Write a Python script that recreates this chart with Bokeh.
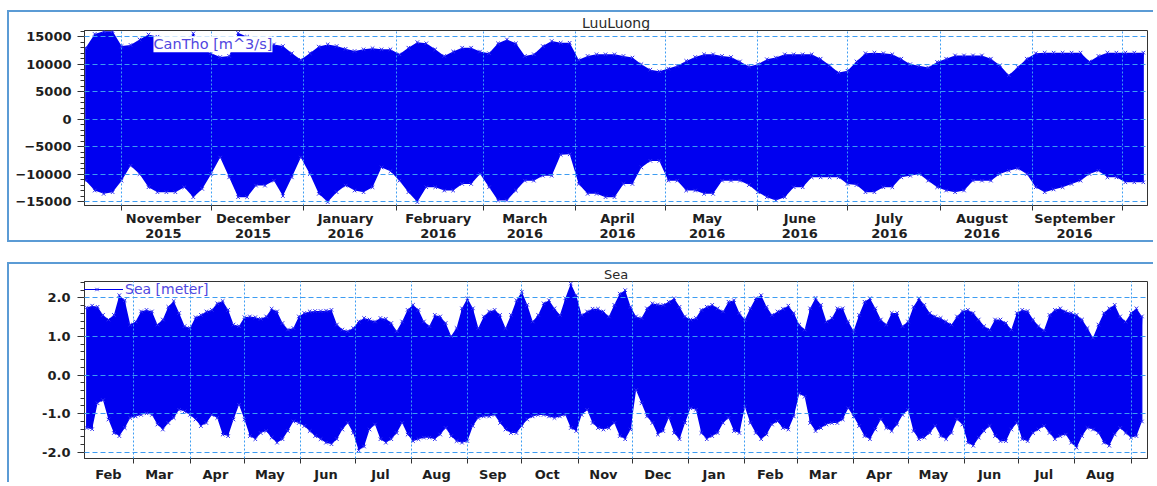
import numpy as np
import pandas as pd
from bokeh.plotting import figure
from bokeh.layouts import column
from bokeh.models import (ColumnDataSource, Range1d, FixedTicker, SingleIntervalTicker,
                          PrintfTickFormatter, Label, Legend, LegendItem)
from bokeh.embed import file_html
from bokeh.resources import INLINE

BASE = pd.Timestamp("2015-01-01")


def day(ts):
    return (pd.Timestamp(ts) - BASE) / pd.Timedelta(days=1)


# ---------------- LuuLuong : CanTho discharge [m^3/s] (envelope read every 3 days) -------------
flow_start = "2015-10-20"
flow_step_days = 3
flow_high = [13000, 15500, 16000, 16000, 13300, 13500, 14500, 15400, 15000, 13500,
             13000, 13000, 15600, 12700, 12000, 11300, 11500, 15700, 15000, 13600,
             13600, 13600, 13300, 12000, 10800, 12000, 13200, 13600, 13300, 12800,
             12400, 12700, 12900, 12700, 12700, 11800, 13000, 14000, 13800, 12700,
             11500, 12300, 13000, 13000, 12300, 12000, 13800, 14500, 13800, 11500,
             11800, 13300, 14200, 13900, 13900, 10800, 11500, 11800, 11800, 11800,
             11500, 11200, 10000, 9000, 8700, 9200, 9700, 10600, 11300, 11800,
             11800, 11500, 11300, 10500, 9600, 10000, 10900, 11200, 11800, 11800,
             11800, 11800, 11000, 9800, 8500, 8800, 10500, 12000, 12100, 12000,
             11800, 11000, 10000, 9700, 9400, 10400, 11000, 11600, 11600, 11600,
             11600, 11000, 9800, 8000, 9500, 11000, 12000, 12100, 12100, 12100,
             12100, 12100, 10500, 11500, 12100, 12100, 12100, 12100, 12100]
flow_low = [-11200, -13000, -13600, -13300, -11200, -8500, -10000, -12400, -13300, -13300,
            -13300, -12400, -14200, -12700, -10000, -7000, -10600, -14200, -14200, -12100,
            -12100, -11200, -14000, -10600, -7000, -10000, -13600, -15100, -13300, -12100,
            -13000, -13300, -12400, -8800, -9500, -11200, -13300, -15100, -12400, -12400,
            -13000, -13000, -11800, -11800, -10000, -12400, -14800, -14800, -13000, -11200,
            -11200, -10300, -10300, -6500, -6400, -11800, -13600, -13600, -14200, -14200,
            -11800, -11800, -8800, -7600, -7600, -11200, -11200, -13000, -13000, -13600,
            -13600, -11200, -11200, -11200, -12000, -13300, -14200, -14800, -14200, -12400,
            -12400, -10600, -10600, -10600, -10600, -11800, -12000, -13300, -13300, -12400,
            -12400, -10600, -10300, -10000, -11200, -12400, -13000, -13300, -13000, -11200,
            -11200, -11200, -10000, -9400, -9000, -10000, -12400, -13300, -12800, -12400,
            -11800, -11200, -10000, -9400, -10600, -10600, -11500, -11500, -11500]
flow_month_starts = pd.date_range("2015-11-01", "2016-10-01", freq="MS")
flow_month_labels = ["November\n2015", "December\n2015", "January\n2016", "February\n2016",
                     "March\n2016", "April\n2016", "May\n2016", "June\n2016", "July\n2016",
                     "August\n2016", "September\n2016"]

# ---------------- Sea : water level [meter] (envelope read every 3 days) -------------
sea_start = "2015-02-03"
sea_step_days = 3
sea_high = [1.75, 1.80, 1.77, 1.56, 1.44, 1.56, 2.07, 1.94, 1.31, 1.39,
            1.65, 1.69, 1.65, 1.31, 1.44, 1.77, 1.92, 1.61, 1.27, 1.22,
            1.50, 1.56, 1.65, 1.69, 1.86, 1.92, 1.69, 1.31, 1.27, 1.50,
            1.52, 1.50, 1.46, 1.52, 1.72, 1.65, 1.35, 1.18, 1.22, 1.52,
            1.61, 1.65, 1.66, 1.66, 1.67, 1.69, 1.31, 1.18, 1.14, 1.22,
            1.39, 1.48, 1.44, 1.39, 1.48, 1.46, 1.35, 1.14, 1.39, 1.69,
            1.82, 1.69, 1.39, 1.27, 1.56, 1.52, 1.35, 1.01, 1.22, 1.73,
            1.99, 1.73, 1.22, 1.52, 1.65, 1.69, 1.56, 1.22, 1.56, 1.94,
            2.16, 1.82, 1.39, 1.56, 1.86, 1.94, 1.73, 1.56, 1.99, 2.37,
            2.07, 1.56, 1.65, 1.72, 1.72, 1.65, 1.52, 1.82, 2.11, 2.20,
            1.77, 1.52, 1.48, 1.73, 1.86, 1.83, 1.82, 1.90, 1.99, 1.77,
            1.52, 1.44, 1.48, 1.69, 1.77, 1.82, 1.73, 1.65, 1.90, 1.94,
            1.61, 1.44, 1.73, 1.99, 2.07, 1.77, 1.56, 1.65, 1.72, 1.80,
            1.61, 1.31, 1.18, 1.73, 2.00, 1.82, 1.39, 1.48, 1.73, 1.73,
            1.39, 1.14, 1.56, 1.90, 1.99, 1.73, 1.44, 1.31, 1.61, 1.61,
            1.27, 1.39, 1.77, 1.99, 1.82, 1.61, 1.52, 1.48, 1.39, 1.31,
            1.52, 1.66, 1.69, 1.61, 1.44, 1.27, 1.18, 1.44, 1.44, 1.35,
            1.18, 1.61, 1.69, 1.66, 1.44, 1.27, 1.16, 1.56, 1.69, 1.73,
            1.65, 1.61, 1.56, 1.44, 1.22, 0.97, 1.31, 1.61, 1.73, 1.82,
            1.52, 1.39, 1.61, 1.73, 1.52]
sea_low = [-1.37, -1.40, -0.73, -0.65, -1.15, -1.50, -1.58, -1.37, -1.11, -1.07,
           -1.03, -0.99, -1.03, -1.28, -1.41, -1.24, -1.11, -0.90, -0.94, -1.03,
           -1.15, -1.32, -1.24, -1.03, -1.11, -1.54, -1.58, -1.15, -0.77, -1.15,
           -1.58, -1.66, -1.50, -1.45, -1.62, -1.75, -1.66, -1.45, -1.20, -1.24,
           -1.32, -1.45, -1.58, -1.66, -1.75, -1.79, -1.66, -1.41, -1.24, -1.50,
           -1.95, -1.85, -1.41, -1.28, -1.66, -1.75, -1.66, -1.50, -1.24, -1.54,
           -1.71, -1.66, -1.62, -1.62, -1.66, -1.54, -1.37, -1.58, -1.71, -1.75,
           -1.71, -1.32, -1.11, -1.07, -1.07, -1.03, -1.24, -1.41, -1.50, -1.50,
           -1.32, -1.15, -1.07, -1.03, -1.03, -1.07, -1.11, -1.07, -1.03, -1.37,
           -1.45, -1.03, -0.90, -1.24, -1.37, -1.41, -1.37, -1.24, -1.58, -1.66,
           -1.41, -0.39, -0.73, -1.07, -1.24, -1.54, -1.45, -1.11, -1.50, -1.66,
           -1.24, -0.86, -0.90, -1.50, -1.66, -1.58, -1.50, -1.24, -1.11, -1.45,
           -1.50, -0.82, -1.24, -1.50, -1.66, -1.54, -1.28, -1.20, -1.37, -1.41,
           -1.07, -0.48, -0.56, -1.24, -1.45, -1.37, -1.28, -1.24, -1.24, -1.15,
           -0.86, -1.07, -1.32, -1.58, -1.66, -1.41, -1.15, -1.37, -1.45, -1.28,
           -1.03, -0.90, -1.45, -1.66, -1.62, -1.50, -1.32, -1.58, -1.66, -1.50,
           -1.15, -1.28, -1.75, -1.83, -1.62, -1.45, -1.32, -1.58, -1.71, -1.71,
           -1.41, -1.24, -1.66, -1.71, -1.50, -1.41, -1.32, -1.50, -1.66, -1.58,
           -1.54, -1.75, -1.88, -1.58, -1.37, -1.41, -1.50, -1.75, -1.83, -1.54,
           -1.37, -1.50, -1.62, -1.58, -1.20]
sea_month_starts = pd.date_range("2015-03-01", "2016-09-01", freq="MS")
sea_month_labels = ["Feb", "Mar", "Apr", "May", "Jun", "Jul", "Aug", "Sep", "Oct", "Nov",
                    "Dec", "Jan", "Feb", "Mar", "Apr", "May", "Jun", "Jul", "Aug"]

# ---------------- styling ----------------
BLUE = "#0000f0"
EDGE = "#3030f5"
GRID = "#3d9cf2"
FRAME_BLUE = "#5b9bd5"
LEG = "#5046e0"
AXC = "#333333"
TXT = "#1e1e1e"
FONT = "DejaVu Sans"


def draw_series(p, start, step, hi, lo):
    xs = day(start) + step * np.arange(len(hi))
    src = ColumnDataSource(dict(x=xs, hi=hi, lo=lo))
    p.varea(x="x", y1="lo", y2="hi", source=src, fill_color=BLUE)
    xz = np.repeat(xs, 2)
    yz = np.column_stack([hi, lo]).ravel()
    line = p.line(xz, yz, line_color=BLUE, line_width=1)
    pts = p.scatter(xz, yz, marker="x", size=5, line_color=EDGE, line_width=1)
    return line, pts


def setup_axes(p, mids, starts, labels, line_height, xstandoff, yticker, yfmt, ystandoff):
    xa = p.xaxis[0]
    xa.ticker = FixedTicker(ticks=mids, minor_ticks=starts)
    xa.major_label_overrides = {m: l for m, l in zip(mids, labels)}
    xa.major_tick_line_color = None
    xa.major_tick_out = 0
    xa.major_tick_in = 0
    xa.minor_tick_out = 5
    xa.minor_tick_in = 0
    xa.minor_tick_line_color = AXC
    xa.axis_line_color = AXC
    xa.major_label_standoff = xstandoff
    xa.major_label_text_font = FONT
    xa.major_label_text_font_size = "13px"
    xa.major_label_text_font_style = "bold"
    xa.major_label_text_color = TXT
    xa.major_label_text_line_height = line_height

    ya = p.yaxis[0]
    ya.ticker = yticker
    if yfmt is not None:
        ya.formatter = yfmt
    ya.major_tick_out = 7
    ya.major_tick_in = 0
    ya.minor_tick_out = 4
    ya.minor_tick_in = 0
    ya.major_tick_line_color = AXC
    ya.minor_tick_line_color = AXC
    ya.axis_line_color = AXC
    ya.major_label_standoff = ystandoff
    ya.major_label_text_font = FONT
    ya.major_label_text_font_size = "13px"
    ya.major_label_text_font_style = "bold"
    ya.major_label_text_color = TXT

    p.xgrid.ticker = FixedTicker(ticks=starts)
    p.xgrid.grid_line_color = GRID
    p.xgrid.grid_line_dash = "2 2"
    p.xgrid.level = "guide"
    p.ygrid.grid_line_color = GRID
    p.ygrid.grid_line_dash = "5 3"
    p.ygrid.level = "guide"


def set_title(p, text, size):
    p.title.text = text
    p.title.align = "center"
    p.title.text_font = FONT
    p.title.text_font_size = size
    p.title.text_font_style = "normal"
    p.title.text_color = "#2a2a2a"
    p.title.standoff = 0
    p.title.offset = 0


# ---------------- top panel ----------------
fx0, fx1 = day("2015-10-19 14:00"), day("2016-10-09 10:00")
fy0, fy1 = -15720, 16130
p1 = figure(width=1146, height=232, output_backend="svg", toolbar_location=None,
            x_range=Range1d(fx0, fx1), y_range=Range1d(fy0, fy1),
            min_border_left=75, min_border_right=8, min_border_top=16, min_border_bottom=39,
            outline_line_color=AXC, background_fill_color="white", border_fill_color="white")
p1.styles = {"border-left": f"2px solid {FRAME_BLUE}", "border-top": f"2px solid {FRAME_BLUE}",
             "border-bottom": f"2px solid {FRAME_BLUE}"}
draw_series(p1, flow_start, flow_step_days, flow_high, flow_low)
f_starts = [int(day(d)) for d in flow_month_starts]
f_mids = [s + 14 for s in f_starts[:-1]]
setup_axes(p1, f_mids, f_starts, flow_month_labels, 1.0, 0,
           SingleIntervalTicker(interval=5000, num_minor_ticks=5), None, 6)
set_title(p1, "LuuLuong", "14px")
p1.add_layout(Label(x=day("2015-11-11 16:00"), y=13650, text="CanTho [m^3/s]",
                    text_align="left", text_baseline="middle", text_font=FONT,
                    text_font_size="14.5px", text_color=LEG, background_fill_color="white"))

# ---------------- bottom panel ----------------
sx0, sx1 = day("2015-02-01 19:00"), day("2016-09-10 02:00")
sy0, sy1 = -2.16, 2.425
p2 = figure(width=1146, height=220, output_backend="svg", toolbar_location=None,
            x_range=Range1d(sx0, sx1), y_range=Range1d(sy0, sy1),
            min_border_left=44, min_border_right=4, min_border_top=15, min_border_bottom=25,
            outline_line_color=AXC, background_fill_color="white", border_fill_color="white")
p2.styles = {"border-left": f"2px solid {FRAME_BLUE}", "border-top": f"2px solid {FRAME_BLUE}"}
sea_line, sea_pts = draw_series(p2, sea_start, sea_step_days, sea_high, sea_low)
s_starts = [int(day(d)) for d in sea_month_starts]
s_mids = [int(day("2015-02-15"))] + [s + 14 for s in s_starts[:-1]]
setup_axes(p2, s_mids, s_starts, sea_month_labels, 1.2, 3,
           SingleIntervalTicker(interval=1.0, num_minor_ticks=5),
           PrintfTickFormatter(format="%.1f"), 7)
set_title(p2, "Sea", "13px")
legend = Legend(items=[LegendItem(label="Sea [meter]", renderers=[sea_line, sea_pts])],
                location=(-14, 161), glyph_width=53, glyph_height=12, label_height=12,
                label_standoff=2, padding=0, margin=0, spacing=0,
                background_fill_alpha=0, border_line_alpha=0,
                label_text_font=FONT, label_text_font_size="14px", label_text_color=LEG)
p2.add_layout(legend)

layout = column(p1, p2, spacing=20, margin=(10, 0, 0, 7))
open("out.html", "w").write(file_html(layout, INLINE))
